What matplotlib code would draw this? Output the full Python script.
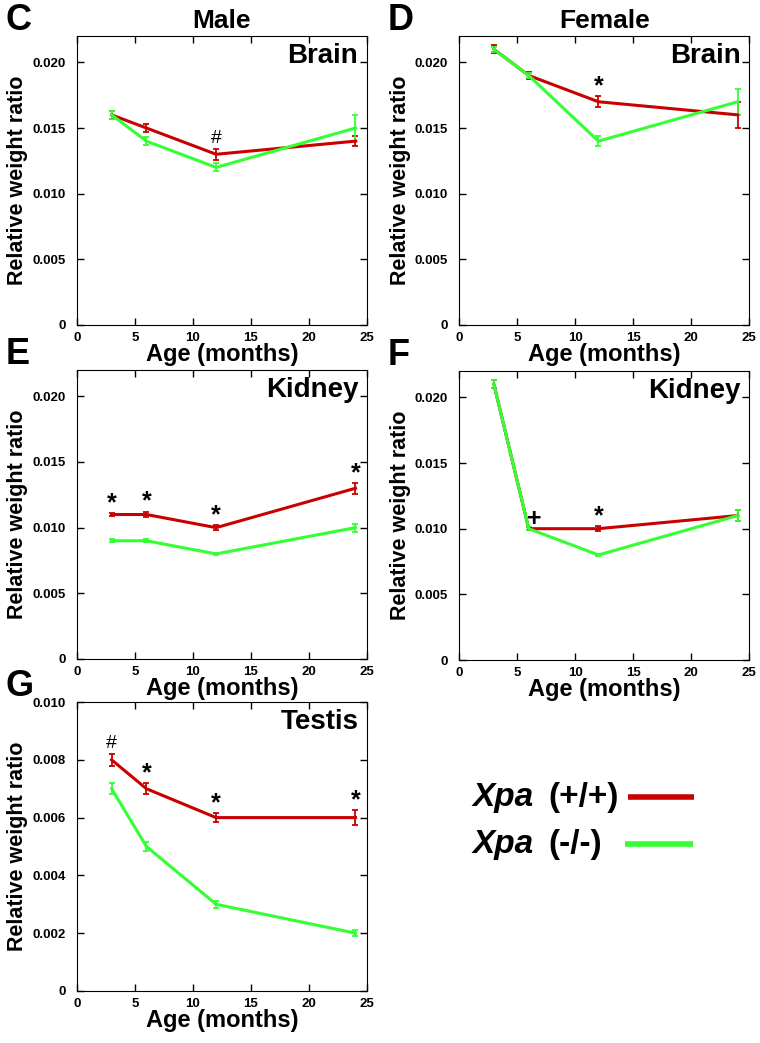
import numpy as np
from matplotlib import pyplot as plt
from matplotlib.ticker import FuncFormatter

plt.rcParams['font.family'] = ['Liberation Sans', 'DejaVu Sans']
plt.rcParams['font.weight'] = 'bold'

RED = '#c80000'
GREEN = '#33ff33'

age = [3, 6, 12, 24]

# male brain
c_wt = [0.016, 0.015, 0.013, 0.014]
c_wt_err = [0.0003, 0.0003, 0.0004, 0.0004]
c_ko = [0.016, 0.014, 0.012, 0.015]
c_ko_err = [0.0003, 0.0003, 0.0003, 0.001]
c_marks = [(12, '#')]

# female brain
d_wt = [0.021, 0.019, 0.017, 0.016]
d_wt_err = [0.0003, 0.0003, 0.0004, 0.001]
d_ko = [0.021, 0.019, 0.014, 0.017]
d_ko_err = [0.0002, 0.0002, 0.0004, 0.001]
d_marks = [(12, '*')]

# male kidney
e_wt = [0.011, 0.011, 0.010, 0.013]
e_wt_err = [0.0001, 0.0002, 0.0002, 0.0004]
e_ko = [0.009, 0.009, 0.008, 0.010]
e_ko_err = [0.0001, 0.0001, 0.0001, 0.0003]
e_marks = [(3, '*'), (6, '*'), (12, '*'), (24, '*')]

# female kidney
f_wt = [0.021, 0.010, 0.010, 0.011]
f_wt_err = [0.0003, 0.0001, 0.0002, 0.0004]
f_ko = [0.021, 0.010, 0.008, 0.011]
f_ko_err = [0.0003, 0.0001, 0.0001, 0.0004]
f_marks = [(6.5, '+'), (12, '*')]

# testis
g_wt = [0.008, 0.007, 0.006, 0.006]
g_wt_err = [0.0002, 0.0002, 0.00015, 0.00025]
g_ko = [0.007, 0.005, 0.003, 0.002]
g_ko_err = [0.0002, 0.00015, 0.00012, 0.0001]
g_marks = [(3, '#'), (6, '*'), (12, '*'), (24, '*')]

legend_labels = ['(+/+)', '(-/-)']


def yfmt(v, pos):
    if abs(v) < 1e-12:
        return '0'
    return '%.3f' % v


def panel(rect, wt, wt_err, ko, ko_err, marks, organ, letter, ymax, yticks,
          title=None):
    ax = fig.add_axes(rect)
    ax.errorbar(age, wt, yerr=wt_err, color=RED, lw=2.2, elinewidth=1.3,
                capsize=2.2, capthick=1.3)
    ax.errorbar(age, ko, yerr=ko_err, color=GREEN, lw=2.2, elinewidth=1.3,
                capsize=2.2, capthick=1.3)
    gap = ymax * 0.035
    for x, s in marks:
        i = age.index(x) if x in age else 1
        y = wt[i] + wt_err[i] + gap
        fs = 14 if s == '#' else 18
        if s == '+':
            y = wt[i] + gap
        ax.text(x, y, s, ha='center', va='center', fontsize=fs,
                fontweight='bold' if s != '#' else 'normal')
    ax.set_xlim(0, 25)
    ax.set_ylim(0, ymax)
    ax.set_xticks([0, 5, 10, 15, 20, 25])
    ax.set_yticks(yticks)
    ax.yaxis.set_major_formatter(FuncFormatter(yfmt))
    ax.tick_params(direction='in', top=True, right=True, length=5, width=1,
                   labelsize=9.5)
    ax.tick_params(axis='x', pad=5)
    ax.tick_params(axis='y', pad=8)
    ax.set_xlabel('Age (months)', fontsize=17, fontweight='bold', labelpad=-1)
    ax.set_ylabel('Relative weight ratio', fontsize=15.5, fontweight='bold',
                  labelpad=3)
    ax.text(0.97, 0.93, organ, transform=ax.transAxes, ha='right', va='center',
            fontsize=20, fontweight='bold')
    ax.text(-0.245, 1.055, letter, transform=ax.transAxes, ha='left',
            va='center', fontsize=26, fontweight='bold')
    if title:
        ax.set_title(title, fontsize=19, fontweight='bold', pad=6)
    return ax


fig = plt.figure(figsize=(7.6, 10.43), dpi=100)

w, h = 0.382, 0.277
brain_ticks = [0, 0.005, 0.010, 0.015, 0.020]
panel([0.101, 0.6884, w, h], c_wt, c_wt_err, c_ko, c_ko_err, c_marks,
      'Brain', 'C', 0.022, brain_ticks, 'Male')
panel([0.604, 0.6884, w, h], d_wt, d_wt_err, d_ko, d_ko_err, d_marks,
      'Brain', 'D', 0.022, brain_ticks, 'Female')
panel([0.101, 0.3682, w, h], e_wt, e_wt_err, e_ko, e_ko_err, e_marks,
      'Kidney', 'E', 0.022, brain_ticks)
panel([0.604, 0.3672, w, h], f_wt, f_wt_err, f_ko, f_ko_err, f_marks,
      'Kidney', 'F', 0.022, brain_ticks)
panel([0.101, 0.0499, w, h], g_wt, g_wt_err, g_ko, g_ko_err, g_marks,
      'Testis', 'G', 0.010, [0, 0.002, 0.004, 0.006, 0.008, 0.010])

# legend
leg = fig.add_axes([0.6, 0.15, 0.4, 0.12])
leg.set_axis_off()
leg.set_xlim(0, 1)
leg.set_ylim(0, 1)
colors = [RED, GREEN]
line_x = [(0.566, 0.783), (0.556, 0.780)]
for k, (lab, col) in enumerate(zip(legend_labels, colors)):
    yy = 0.712 - k * 0.376
    leg.text(0.056, yy, 'Xpa', fontsize=24, fontweight='bold', style='italic',
             ha='left', va='center')
    leg.text(0.305, yy, lab, fontsize=24, fontweight='bold', ha='left',
             va='center')
    leg.plot(line_x[k], [yy, yy], color=col, lw=4, solid_capstyle='butt')

fig.savefig('out.png', dpi=100)
